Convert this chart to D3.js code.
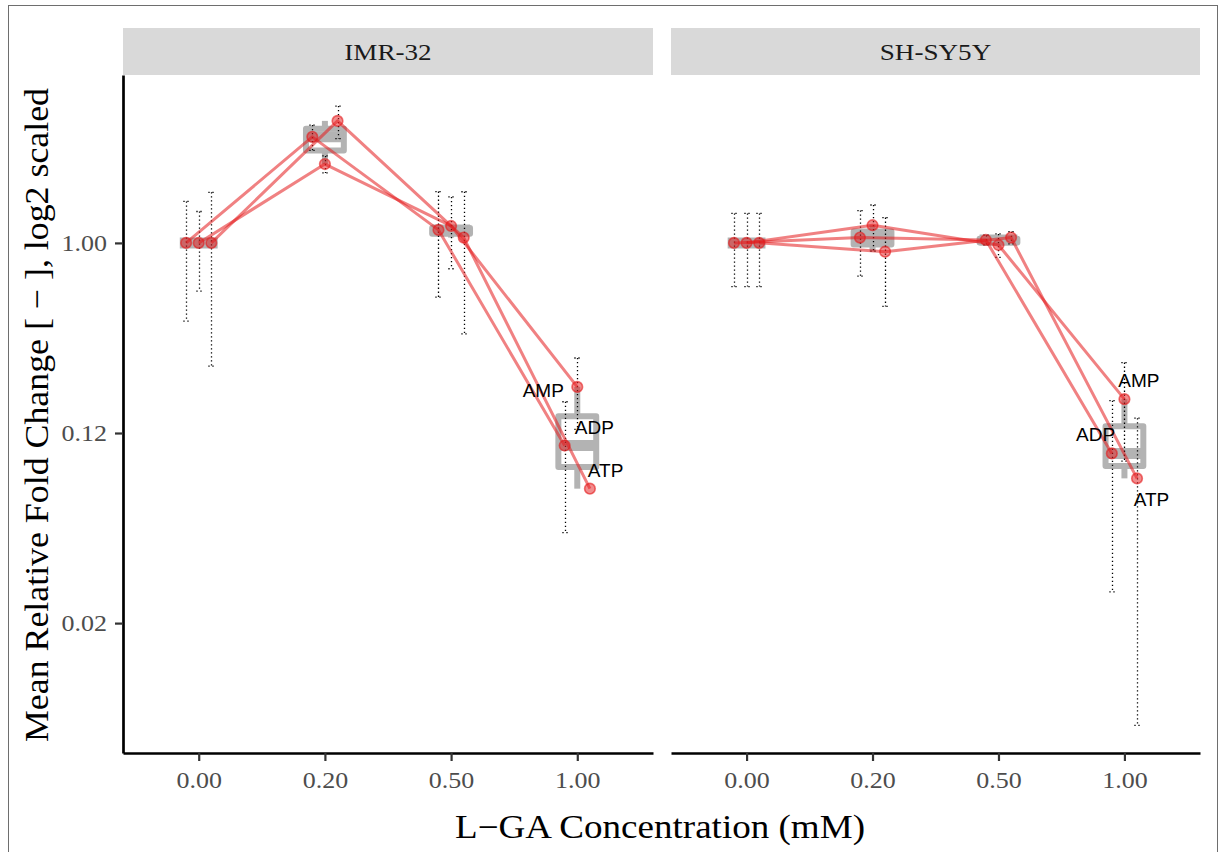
<!DOCTYPE html>
<html>
<head>
<meta charset="utf-8">
<script src="https://cdn.jsdelivr.net/npm/d3@7"></script>
<style>
  html, body { margin: 0; padding: 0; background: #ffffff; }
  svg { display: block; }
</style>
</head>
<body>
<script>
// ---- Data -------------------------------------------------------------
const doses = ["0.00", "0.20", "0.50", "1.00"];
const compounds = ["ADP", "AMP", "ATP"];
const cellLines = ["IMR-32", "SH-SY5Y"];

// mean relative fold change per dose (IMR-32)
const imr32ADP = [1.00, 3.19, 1.153, 0.109];
const imr32AMP = [1.00, 2.37, 1.204, 0.207];
const imr32ATP = [1.00, 3.80, 1.060, 0.068];
// standard deviation per dose (IMR-32)
const imr32ADPsd = [0.575, 0.44, 0.60, 0.067];
const imr32AMPsd = [0.41, 0.22, 0.45, 0.077];
const imr32ATPsd = [0.74, 0.67, 0.69, 0.090];

// mean relative fold change per dose (SH-SY5Y)
const shsy5yADP = [1.00, 1.060, 1.033, 0.100];
const shsy5yAMP = [1.00, 1.214, 0.978, 0.181];
const shsy5yATP = [1.00, 0.909, 1.060, 0.0761];
// standard deviation per dose (SH-SY5Y)
const shsy5yADPsd = [0.38, 0.365, 0.055, 0.078];
const shsy5yAMPsd = [0.38, 0.30, 0.125, 0.089];
const shsy5yATPsd = [0.38, 0.41, 0.070, 0.071];

const yTickValues = [1, 0.125, 0.015625];
const yTickLabels = ["1.00", "0.12", "0.02"];

const xTitle = "L\u2212GA Concentration (mM)";
const yTitle = "Mean Relative Fold Change [ \u2212 ], log2 scaled";

// ---- Layout -----------------------------------------------------------
const W = 1219, H = 852;
const plotTop = 75, plotBottom = 753, stripTop = 28;
const panelBounds = [[123, 653], [671, 1200]];
const serif = "'Liberation Serif', 'Times New Roman', serif";
const sans = "'Liberation Sans', Arial, sans-serif";
const stretchK = 1.13;

const panelData = {
  "IMR-32": {
    mean: { ADP: imr32ADP, AMP: imr32AMP, ATP: imr32ATP },
    sd:   { ADP: imr32ADPsd, AMP: imr32AMPsd, ATP: imr32ATPsd },
    nudge: { AMP: [-34, 3.3], ADP: [29.7, -18.4], ATP: [15.7, -18.4] }
  },
  "SH-SY5Y": {
    mean: { ADP: shsy5yADP, AMP: shsy5yAMP, ATP: shsy5yATP },
    sd:   { ADP: shsy5yADPsd, AMP: shsy5yAMPsd, ATP: shsy5yATPsd },
    nudge: { AMP: [14.5, -19.3], ADP: [-16.2, -19.3], ATP: [14.5, 21] }
  }
};

const svg = d3.select("body").append("svg")
  .attr("width", W).attr("height", H);

svg.append("rect").attr("width", W).attr("height", H).attr("fill", "#ffffff");
svg.append("rect")
  .attr("x", 8.5).attr("y", 5.5).attr("width", 1209).attr("height", 860)
  .attr("fill", "none").attr("stroke", "#6e6e6e").attr("stroke-width", 1);

// widen serif glyphs slightly so the type sets at a book-like width
function stretch(sel, k) {
  sel.each(function () {
    const len = this.getComputedTextLength();
    d3.select(this).attr("textLength", len * k).attr("lengthAdjust", "spacingAndGlyphs");
  });
}

const y = d3.scaleLog().base(2)
  .domain([Math.pow(2, 2.65), Math.pow(2, -8.05)])
  .range([plotTop, plotBottom]);

const boxGray = "#b3b3b3";
const red = "#e41a1c";

cellLines.forEach((name, pi) => {
  const [x0, x1] = panelBounds[pi];
  const d = panelData[name];
  const x = d3.scalePoint().domain(doses).range([x0, x1]).padding(0.6);
  const step = x.step();
  const dodge = { ADP: -0.1 * step, AMP: 0, ATP: 0.1 * step };
  const g = svg.append("g");

  // strip
  g.append("rect").attr("x", x0).attr("y", stripTop)
    .attr("width", x1 - x0).attr("height", plotTop - stripTop).attr("fill", "#d9d9d9");
  g.append("text").attr("x", (x0 + x1) / 2).attr("y", 60)
    .attr("text-anchor", "middle").attr("font-family", serif).attr("font-size", 24)
    .attr("fill", "#1a1a1a").text(name).call(stretch, stretchK);

  // boxplots of the three compound means per dose (on the log2 scale)
  const halfBox = 0.15 * step;
  doses.forEach((dose, i) => {
    const vals = compounds.map(c => Math.log2(d.mean[c][i])).sort(d3.ascending);
    const q1 = d3.quantile(vals, 0.25), q2 = d3.quantile(vals, 0.5), q3 = d3.quantile(vals, 0.75);
    const iqr = q3 - q1;
    const lo = d3.min(vals.filter(v => v >= q1 - 1.5 * iqr));
    const hi = d3.max(vals.filter(v => v <= q3 + 1.5 * iqr));
    const cx = x(dose);
    const yv = v => y(Math.pow(2, v));
    const bg = g.append("g").attr("stroke", boxGray).attr("fill", "none");
    bg.append("line").attr("x1", cx).attr("x2", cx).attr("y1", yv(q3)).attr("y2", yv(hi))
      .attr("stroke-width", 6);
    bg.append("line").attr("x1", cx).attr("x2", cx).attr("y1", yv(q1)).attr("y2", yv(lo))
      .attr("stroke-width", 6);
    bg.append("rect").attr("x", cx - halfBox).attr("width", 2 * halfBox)
      .attr("y", yv(q3)).attr("height", yv(q1) - yv(q3))
      .attr("stroke-width", 6).attr("stroke-linejoin", "round");
    bg.append("line").attr("x1", cx - halfBox).attr("x2", cx + halfBox)
      .attr("y1", yv(q2)).attr("y2", yv(q2)).attr("stroke-width", 11);
  });

  // error bars (mean ± sd), dotted; bars reaching zero cannot be shown on a log axis
  const capHalf = 0.025 * step;
  compounds.forEach(c => {
    doses.forEach((dose, i) => {
      const m = d.mean[c][i], s = d.sd[c][i];
      const lo = m - s, hi = m + s;
      if (lo <= 0) return;
      const cx = Math.round(x(dose) + dodge[c]) + 0.5;
      const eg = g.append("g").attr("stroke", "#000").attr("stroke-width", 1.3)
        .attr("stroke-dasharray", "1.3,2.7").attr("fill", "none");
      eg.append("line").attr("x1", cx).attr("x2", cx).attr("y1", y(hi)).attr("y2", y(lo));
      eg.append("line").attr("x1", cx - capHalf).attr("x2", cx + capHalf).attr("y1", y(hi)).attr("y2", y(hi));
      eg.append("line").attr("x1", cx - capHalf).attr("x2", cx + capHalf).attr("y1", y(lo)).attr("y2", y(lo));
    });
  });

  // connecting lines per compound
  const line = d3.line()
    .x(p => p.x).y(p => p.y);
  compounds.forEach(c => {
    const pts = doses.map((dose, i) => ({ x: x(dose) + dodge[c], y: y(d.mean[c][i]) }));
    g.append("path").attr("d", line(pts)).attr("fill", "none")
      .attr("stroke", red).attr("stroke-opacity", 0.55).attr("stroke-width", 3)
      .attr("stroke-linejoin", "round");
  });

  // points
  compounds.forEach(c => {
    doses.forEach((dose, i) => {
      g.append("circle").attr("cx", x(dose) + dodge[c]).attr("cy", y(d.mean[c][i]))
        .attr("r", 5.3).attr("fill", red).attr("fill-opacity", 0.5)
        .attr("stroke", red).attr("stroke-opacity", 0.6).attr("stroke-width", 1.6);
    });
  });

  // compound labels at the highest dose
  const last = doses.length - 1;
  compounds.forEach(c => {
    const px = x(doses[last]) + dodge[c];
    const py = y(d.mean[c][last]);
    const [nx, ny] = d.nudge[c];
    g.append("text").attr("x", px + nx).attr("y", py + ny + 6.8)
      .attr("text-anchor", "middle").attr("font-family", sans).attr("font-size", 19)
      .attr("fill", "#000").text(c);
  });

  // x axis
  const xa = g.append("g").attr("transform", `translate(0,${plotBottom})`)
    .call(d3.axisBottom(x).tickSizeInner(8).tickSizeOuter(0).tickPadding(11));
  xa.select(".domain").attr("stroke", "#000").attr("stroke-width", 2.7);
  xa.selectAll(".tick line").attr("stroke", "#333").attr("stroke-width", 2.2);
  xa.selectAll(".tick text").attr("font-family", serif).attr("font-size", 23)
    .attr("fill", "#4d4d4d").call(stretch, stretchK);

  // y axis on the first panel only
  if (pi === 0) {
    const ya = g.append("g").attr("transform", `translate(${x0},0)`)
      .call(d3.axisLeft(y).tickValues(yTickValues)
        .tickFormat((v, k) => yTickLabels[k]).tickSizeInner(8).tickSizeOuter(0).tickPadding(8));
    ya.select(".domain").attr("stroke", "#000").attr("stroke-width", 2.7);
    ya.selectAll(".tick line").attr("stroke", "#333").attr("stroke-width", 2.2);
    ya.selectAll(".tick text").attr("font-family", serif).attr("font-size", 23)
      .attr("fill", "#4d4d4d").call(stretch, stretchK);
  }
});

// axis titles
svg.append("text").attr("x", 660).attr("y", 838).attr("text-anchor", "middle")
  .attr("font-family", serif).attr("font-size", 33).attr("fill", "#000")
  .attr("textLength", 410).attr("lengthAdjust", "spacingAndGlyphs").text(xTitle);
svg.append("text").attr("transform", "translate(48,415) rotate(-90)").attr("text-anchor", "middle")
  .attr("font-family", serif).attr("font-size", 33).attr("fill", "#000")
  .attr("textLength", 654).attr("lengthAdjust", "spacingAndGlyphs").text(yTitle);
</script>
</body>
</html>
